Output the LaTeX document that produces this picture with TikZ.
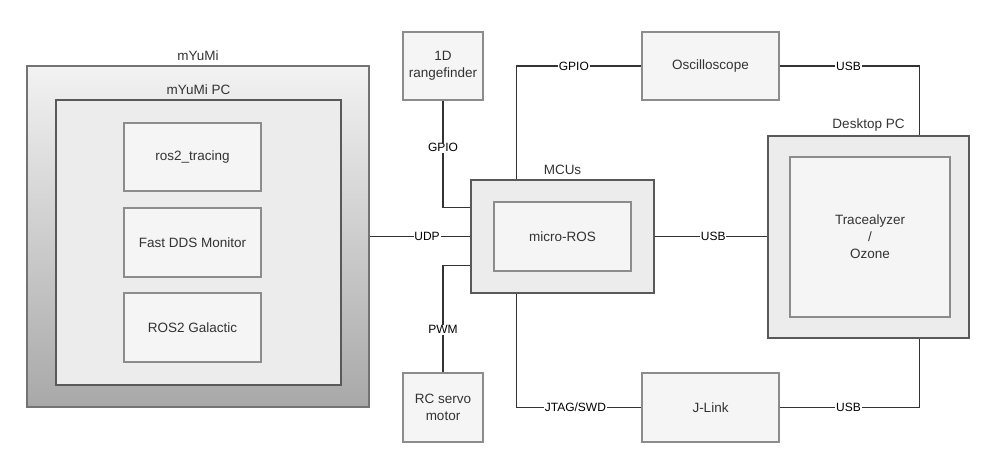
\documentclass[tikz,border=0pt]{standalone}
\usepackage{fontspec}
\setmainfont{Liberation Sans}
\begin{document}
\begin{tikzpicture}[x=1pt,y=-1pt,
  every node/.style={font=\fontsize{13.5}{17}\selectfont, text=black!80},
  inbox/.style={draw=black!45, line width=1.2pt, fill=black!4, inner sep=0pt, align=center},
  outbox/.style={draw=black!65, line width=1.2pt, fill=black!7.5, inner sep=0pt},
  conn/.style={draw=black!80, line width=1.2pt},
  lbl/.style={fill=white, inner sep=0.8pt, font=\fontsize{12}{14}\selectfont, text=black}]
\useasboundingbox (0,0) rectangle (998,463);
% mYuMi
\node[draw=black!55, line width=1.2pt, top color=black!5, bottom color=black!34, minimum width=342pt, minimum height=341pt] (myumi) at (198,236.5) {};
\node at ([yshift=10pt]myumi.north) {mYuMi};
\node[outbox, minimum width=285pt, minimum height=285pt] (pc) at (198.5,242.5) {};
\node at ([yshift=10pt]pc.north) {mYuMi PC};
\node[inbox, minimum width=137pt, minimum height=68pt] (tracing) at (192.5,157) {ros2\_tracing};
\node[inbox, minimum width=137pt, minimum height=69pt] (fastdds) at (192.5,242.5) {Fast DDS Monitor};
\node[inbox, minimum width=137pt, minimum height=69pt] (galactic) at (192.5,327.5) {ROS2 Galactic};
% peripherals
\node[inbox, minimum width=80pt, minimum height=68pt] (rf) at (443,66) {1D\\rangefinder};
\node[inbox, minimum width=80pt, minimum height=69pt] (rc) at (443,407.5) {RC servo\\motor};
% MCUs
\node[outbox, minimum width=183pt, minimum height=113pt] (mcus) at (562.5,236.5) {};
\node at ([yshift=10pt]mcus.north) {MCUs};
\node[inbox, minimum width=137pt, minimum height=69pt] (uros) at (562.5,236.5) {micro-ROS};
% instruments
\node[inbox, minimum width=137pt, minimum height=68pt] (osc) at (710.5,66) {Oscilloscope};
\node[inbox, minimum width=137pt, minimum height=69pt] (jlink) at (710.5,407.5) {J-Link};
% Desktop
\node[outbox, minimum width=201pt, minimum height=202pt] (desk) at (868.5,237) {};
\node at ([yshift=10pt]desk.north) {Desktop PC};
\node[inbox, minimum width=160pt, minimum height=160pt] (trace) at (870,237) {Tracealyzer\\/\\Ozone};
% connectors
\coordinate (mcuGpioIn) at ([yshift=-28pt]mcus.north west);
\coordinate (mcuPwmIn) at ([yshift=28pt]mcus.south west);
\coordinate (mcuTop) at ([xshift=46pt]mcus.north west);
\coordinate (mcuBot) at ([xshift=46pt]mcus.south west);
\coordinate (deskTop) at ([xshift=-50pt]desk.north east);
\coordinate (deskBot) at ([xshift=-50pt]desk.south east);
\draw[conn] (rf.south) |- (mcuGpioIn) node[lbl, pos=0.22] {GPIO};
\draw[conn] (rc.north) |- (mcuPwmIn) node[lbl, pos=0.2] {PWM};
\draw[conn] (myumi.east) -- (myumi.east -| mcus.west) node[lbl, pos=0.57] {UDP};
\draw[conn] (mcuTop) |- (osc.west) node[lbl, pos=0.73] {GPIO};
\draw[conn] (mcuBot) |- (jlink.west) node[lbl, pos=0.736] {JTAG/SWD};
\draw[conn] (mcus.east) -- (mcus.east -| desk.west) node[lbl, pos=0.52] {USB};
\draw[conn] (osc.east) -| (deskTop) node[lbl, pos=0.246] {USB};
\draw[conn] (jlink.east) -| (deskBot) node[lbl, pos=0.246] {USB};
\end{tikzpicture}
\end{document}
